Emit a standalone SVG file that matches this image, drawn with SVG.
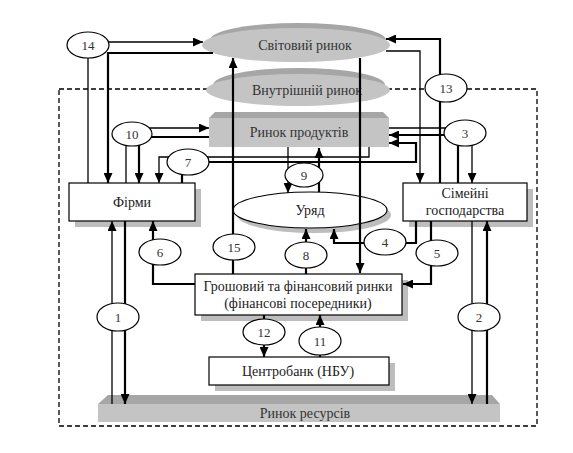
<svg xmlns="http://www.w3.org/2000/svg" width="573" height="453" viewBox="0 0 573 453">
<style>
text{font-family:'Liberation Serif','DejaVu Serif','Times New Roman',serif;text-anchor:middle;fill:#222}
.nt{font-size:14px}
.gt{font-size:14px;fill:#333}
.num{font-size:13px;fill:#333}
.box{fill:#fff;stroke:#000;stroke-width:1.2}
.sh{fill:#bdbdbd}
.lt{fill:#c4c4c4}
.dk{fill:#a6a6a6}
.thin{fill:none;stroke:#000;stroke-width:1.3;marker-end:url(#a)}
.thick{fill:none;stroke:#000;stroke-width:2.2;marker-end:url(#a)}
.lbl{fill:#fff;stroke:#000;stroke-width:1.2}
</style>
<defs>
<marker id="a" markerUnits="userSpaceOnUse" markerWidth="10" markerHeight="9" refX="10" refY="4.5" orient="auto">
<path d="M0,0 L10,4.5 L0,9 z" fill="#000"/>
</marker>
</defs>
<rect width="573" height="453" fill="#fff"/>
<rect x="59" y="89" width="478" height="337" fill="none" stroke="#000" stroke-width="1.3" stroke-dasharray="5,3"/>
<g id="svitovyi">
<ellipse cx="298" cy="40" rx="88" ry="17" class="dk"/>
<ellipse cx="296" cy="45" rx="94" ry="17" class="lt"/>
<text x="305" y="50" class="gt">Світовий ринок</text>
</g>
<g id="vnutrishnii">
<ellipse cx="299" cy="85" rx="86" ry="17" class="dk"/>
<ellipse cx="298" cy="90" rx="92" ry="16" class="lt"/>
<text x="307" y="95" class="gt">Внутрішній ринок</text>
</g>
<g id="rynok-produktiv">
<polygon points="215,112 383,112 389,118 209,118" class="dk"/>
<rect x="209" y="118" width="180" height="29" class="lt"/>
<text x="299" y="137" class="gt">Ринок продуктів</text>
</g>
<g id="firmy">
<rect x="75" y="189" width="126" height="38" class="sh"/>
<rect x="69" y="183" width="126" height="38" class="box"/>
<text x="132" y="207" class="nt">Фірми</text>
</g>
<g id="simeini">
<rect x="409" y="189" width="124" height="38" class="sh"/>
<rect x="403" y="183" width="124" height="38" class="box"/>
<text x="465" y="198" class="nt">Сімейні</text>
<text x="465" y="215" class="nt">господарства</text>
</g>
<g id="uriad">
<ellipse cx="314" cy="215" rx="77" ry="18" class="sh"/>
<ellipse cx="310" cy="210" rx="77" ry="18" class="box"/>
<text x="310" y="215" class="nt">Уряд</text>
</g>
<g id="groshovyi">
<rect x="201" y="280" width="207" height="41" class="sh"/>
<rect x="195" y="274" width="207" height="41" class="box"/>
<text x="298" y="291" class="nt">Грошовий та фінансовий ринки</text>
<text x="298" y="308" class="nt">(фінансові посередники)</text>
</g>
<g id="tsentrobank">
<rect x="215" y="363" width="180" height="28" class="sh"/>
<rect x="209" y="357" width="180" height="28" class="box"/>
<text x="298" y="376" class="nt">Центробанк (НБУ)</text>
</g>
<g id="rynok-resursiv">
<polygon points="108,395 492,395 500,404 98,404" class="dk"/>
<rect x="98" y="404" width="402" height="18" class="lt"/>
<text x="305" y="418" class="gt">Ринок ресурсів</text>
</g>
<g id="connectors">
<path class="thin" d="M88,183 V42 H203"/>
<path class="thick" d="M213,53 H108 V183"/>
<path class="thin" d="M126,183 V128 H209"/>
<path class="thick" d="M209,137 H139 V183"/>
<path class="thin" d="M369,147 V157 H159 V183"/>
<path class="thick" d="M182,183 V162 H416 V143 H389"/>
<path class="thin" d="M389,128 H472 V183"/>
<path class="thick" d="M458,183 V135 H389"/>
<path class="thick" d="M440,183 V39 H386"/>
<path class="thin" d="M386,51 H420 V183"/>
<path class="thin" d="M288,147 V193"/>
<path class="thick" d="M319,192 V148"/>
<path class="thick" d="M233,274 V58"/>
<path class="thick" d="M360,58 V273"/>
<path class="thick" d="M306,274 V229"/>
<path class="thick" d="M416,221 V243 H334 V229"/>
<path class="thick" d="M431,221 V284 H403"/>
<path class="thick" d="M195,284 H153 V221"/>
<path class="thin" d="M112,404 V221"/>
<path class="thick" d="M125,221 V404"/>
<path class="thin" d="M472,221 V404"/>
<path class="thick" d="M487,404 V221"/>
<path class="thick" d="M264,315 V357"/>
<path class="thick" d="M320,357 V315"/>
<g id="labels">
<ellipse cx="88" cy="45" rx="21" ry="13" class="lbl"/><text x="88" y="50" class="num">14</text>
<ellipse cx="132" cy="134" rx="20" ry="12" class="lbl"/><text x="132" y="139" class="num">10</text>
<ellipse cx="188" cy="162" rx="21" ry="13" class="lbl"/><text x="188" y="167" class="num">7</text>
<ellipse cx="446" cy="88" rx="21" ry="14" class="lbl"/><text x="446" y="93" class="num">13</text>
<ellipse cx="465" cy="133" rx="21" ry="13" class="lbl"/><text x="465" y="138" class="num">3</text>
<ellipse cx="304" cy="175" rx="19" ry="12" class="lbl"/><text x="304" y="180" class="num">9</text>
<ellipse cx="385" cy="242" rx="21" ry="13" class="lbl"/><text x="385" y="247" class="num">4</text>
<ellipse cx="437" cy="253" rx="21" ry="13" class="lbl"/><text x="437" y="258" class="num">5</text>
<ellipse cx="160" cy="252" rx="21" ry="13" class="lbl"/><text x="160" y="257" class="num">6</text>
<ellipse cx="234" cy="247" rx="21" ry="13" class="lbl"/><text x="234" y="252" class="num">15</text>
<ellipse cx="306" cy="255" rx="21" ry="13" class="lbl"/><text x="306" y="260" class="num">8</text>
<ellipse cx="118" cy="317" rx="21" ry="14" class="lbl"/><text x="118" y="322" class="num">1</text>
<ellipse cx="479" cy="317" rx="21" ry="14" class="lbl"/><text x="479" y="322" class="num">2</text>
<ellipse cx="264" cy="332" rx="21" ry="13" class="lbl"/><text x="264" y="337" class="num">12</text>
<ellipse cx="320" cy="341" rx="21" ry="14" class="lbl"/><text x="320" y="346" class="num">11</text>
</g>
</g>
</svg>
